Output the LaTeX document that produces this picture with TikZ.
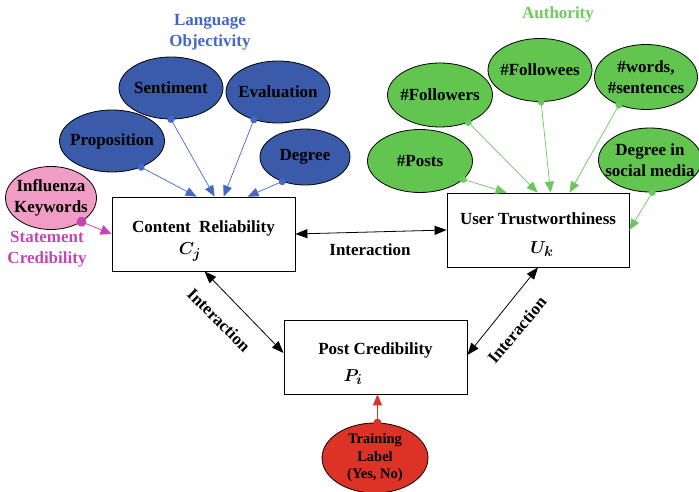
\documentclass[tikz,border=0pt]{standalone}
\usepackage{fontspec}
\setmainfont{Liberation Serif}
\usetikzlibrary{arrows.meta,shapes.geometric}
\definecolor{objblue}{HTML}{3A5BAA}
\definecolor{objtext}{HTML}{4567C4}
\definecolor{objarrow}{HTML}{4468C8}
\definecolor{authgreen}{HTML}{62C54F}
\definecolor{authtext}{HTML}{6CCB5C}
\definecolor{autharrow}{HTML}{6AC95A}
\definecolor{kwpink}{HTML}{F19CC4}
\definecolor{kwtext}{HTML}{C346B4}
\definecolor{labred}{HTML}{DC3326}
\begin{document}
\begin{tikzpicture}[x=1pt,y=-1pt,
  font=\fontsize{17}{21}\selectfont\bfseries,
  feat/.style={ellipse, draw=black, line width=0.8pt, inner sep=0pt},
  blueell/.style={feat, fill=objblue},
  greenell/.style={feat, fill=authgreen},
  etext/.style={font=\fontsize{17}{21}\selectfont\bfseries, align=center, inner sep=0pt, text=black},
  stext/.style={font=\fontsize{14.5}{17.5}\selectfont\bfseries, align=center, inner sep=0pt, text=black},
  boxnode/.style={draw=black, line width=0.8pt, fill=white, inner sep=0pt, minimum width=183pt, minimum height=74pt},
  symtext/.style={font=\fontsize{19}{21}\selectfont\boldmath},
  dotline/.style={shorten <=-3.5pt},
  bluearrow/.style={dotline, draw=objarrow, line width=0.7pt, {Circle[length=7pt]}-{Triangle[length=11pt,width=9pt]}},
  greenarrow/.style={dotline, draw=autharrow, line width=0.7pt, {Circle[length=7pt]}-{Triangle[length=11pt,width=9pt]}},
  pinkarrow/.style={shorten <=-5pt, draw=kwtext, line width=0.8pt, {Circle[length=10pt]}-{Triangle[length=11pt,width=10pt]}},
  redarrow/.style={shorten <=-4pt, draw=labred, line width=1pt, {Circle[length=8pt]}-{Triangle[length=11pt,width=9pt]}},
  biarrow/.style={draw=black, line width=0.8pt, {Triangle[length=12pt,width=9pt]}-{Triangle[length=12pt,width=9pt]}}
]
\useasboundingbox (0,0) rectangle (699,492);

% group titles
\node[text=objtext, align=center] (lotitle) at (210,32) {Language\\Objectivity};
\node[text=authtext] (autitle) at (558,14) {Authority};
\node[text=kwtext, align=center] (sctitle) at (47,249) {Statement\\Credibility};

% language objectivity features
\node[blueell, minimum width=104pt, minimum height=62pt, label={[etext]center:Sentiment}] (sent) at (171,88) {};
\node[blueell, minimum width=104pt, minimum height=62pt, label={[etext]center:Evaluation}] (eval) at (278,92) {};
\node[blueell, minimum width=105pt, minimum height=62pt, label={[etext]center:Proposition}] (prop) at (112,141) {};
\node[blueell, minimum width=90pt, minimum height=56pt, label={[etext]center:Degree}] (deg) at (305,157) {};

% statement credibility feature
\node[feat, fill=kwpink, minimum width=91pt, minimum height=63pt, label={[etext]center:Influenza\\Keywords}] (kw) at (51,198) {};

% authority features
\node[greenell, minimum width=105pt, minimum height=64pt, label={[etext]center:\#Followers}] (fers) at (440,95) {};
\node[greenell, minimum width=104pt, minimum height=63pt, label={[etext]center:\#Followees}] (fees) at (540,70) {};
\node[greenell, minimum width=103pt, minimum height=65pt, label={[etext]center:{\#words,\\\#sentences}}] (words) at (646,77) {};
\node[greenell, minimum width=105pt, minimum height=63pt, label={[etext]center:\#Posts}] (posts) at (420,161) {};
\node[greenell, minimum width=103pt, minimum height=64pt, label={[etext]center:Degree in\\social media}] (dsm) at (650,160) {};

% training label
\node[feat, fill=labred, minimum width=106pt, minimum height=70pt, label={[stext]center:Training\\Label\\{(Yes, No)}}] (train) at (375,458) {};

% main boxes
\node[boxnode] (cr) at (203.5,234) {};
\node (crtitle) at (203.5,228) {Content\ \ Reliability};
\node[symtext] (crsym) at (190,252) {$C_j$};

\node[boxnode, minimum width=182pt] (ut) at (538,230) {};
\node (uttitle) at (538,219) {User Trustworthiness};
\node[symtext] (utsym) at (542,249) {$U_k$};

\node[boxnode] (pc) at (375.5,357) {};
\node (pctitle) at (375.5,350) {Post Credibility};
\node[symtext] (pcsym) at (353,377) {$P_i$};

% feature arrows
\draw[bluearrow] (prop.-42) -- ([xshift=85pt]cr.north west);
\draw[bluearrow] (sent.south) -- ([xshift=103pt]cr.north west);
\draw[bluearrow] (eval.-131) -- ([xshift=112pt]cr.north west);
\draw[bluearrow] (deg.-133) -- ([xshift=136pt]cr.north west);
\draw[pinkarrow] (kw.-38) -- (cr.west);

\draw[greenarrow] (posts.-23) -- ([xshift=60pt]ut.north west);
\draw[greenarrow] (fers.-44) -- ([xshift=91pt]ut.north west);
\draw[greenarrow] (fees.-88) -- ([xshift=104pt]ut.north west);
\draw[greenarrow] (words.-134) -- ([xshift=123pt]ut.north west);
\draw[greenarrow] (dsm.-86) -- (ut.east);

\draw[redarrow] (train.86) -- (pc.south -| train.86);

% interactions
\draw[biarrow] (cr.east) -- (ut.west);
\node (imid) at (370,250) {Interaction};
\draw[biarrow] ([xshift=1pt]cr.south) -- ([yshift=4pt]pc.west);
\node[rotate=-45] (ileft) at (219,320) {Interaction};
\draw[biarrow] ([yshift=2pt]pc.east) -- (ut.south);
\node[rotate=50] (iright) at (517,330) {Interaction};
\end{tikzpicture}
\end{document}
